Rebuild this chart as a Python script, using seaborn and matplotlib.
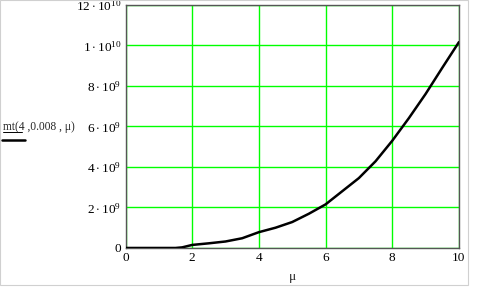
import matplotlib
matplotlib.use("Agg")
import matplotlib.pyplot as plt
import seaborn as sns
import pandas as pd
from matplotlib.lines import Line2D
from matplotlib.patches import Rectangle

mu = [0, 0.5, 1, 1.5, 1.7, 2, 2.5, 3, 3.5, 4, 4.5, 5, 5.5, 6, 6.5, 7, 7.5, 8, 8.5, 9, 9.5, 10]
mt_e9 = [0, 0, 0, 0, 0.03, 0.15, 0.23, 0.32, 0.48, 0.78, 1.0, 1.28, 1.69, 2.15, 2.8, 3.45, 4.28, 5.29, 6.41, 7.6, 8.89, 10.16]
mt = [v * 1e9 for v in mt_e9]

x_ticks = [0, 2, 4, 6, 8, 10]
y_ticks = [0, 2e9, 4e9, 6e9, 8e9, 1e10, 1.2e10]
y_labels = ["0", r"$2\cdot10^{9}$", r"$4\cdot10^{9}$", r"$6\cdot10^{9}$",
            r"$8\cdot10^{9}$", r"$1\cdot10^{10}$", r"$12\cdot10^{10}$"]

sns.set_style("white")
plt.rcParams["font.family"] = ["Liberation Serif", "DejaVu Serif"]
plt.rcParams["mathtext.fontset"] = "custom"
plt.rcParams["mathtext.rm"] = "Liberation Serif"
plt.rcParams["mathtext.it"] = "Liberation Serif"

df = pd.DataFrame({"mu": mu, "mt": mt})

fig = plt.figure(figsize=(4.8, 2.88), dpi=100)
ax = fig.add_axes([0.2615, 0.139, 0.956 - 0.2615, 0.983 - 0.139])

sns.lineplot(data=df, x="mu", y="mt", ax=ax, color="black", linewidth=1.8, zorder=3)

ax.set_xlim(0, 10)
ax.set_ylim(0, 1.2e10)
ax.set_xticks(x_ticks)
ax.set_xticklabels([str(t) for t in x_ticks])
ax.set_yticks(y_ticks)
ax.set_yticklabels(y_labels)
ax.tick_params(axis="both", length=0, labelsize=9.5, pad=3, colors="black")
ax.grid(True, color="#00ff00", linewidth=1.0)
ax.set_axisbelow(True)
for s in ax.spines.values():
    s.set_color("#555555")
    s.set_linewidth(1.0)

ax.set_xlabel("μ", fontsize=9.5, labelpad=5)
ax.set_ylabel("")

fig.text(0.006, 0.558, r"mt(4 ,0.008 , μ)", fontsize=8.3, ha="left", va="center")
fig.add_artist(Line2D([0.006, 0.046], [0.541, 0.541], color="black", linewidth=0.7))
fig.add_artist(Line2D([0.004, 0.052], [0.513, 0.513], color="black", linewidth=1.8))
fig.add_artist(Rectangle((0.0, 0.012), 0.975, 0.988, transform=fig.transFigure,
                         fill=False, edgecolor="#d0d0d0", linewidth=0.8))

fig.savefig("out.png", dpi=100)
